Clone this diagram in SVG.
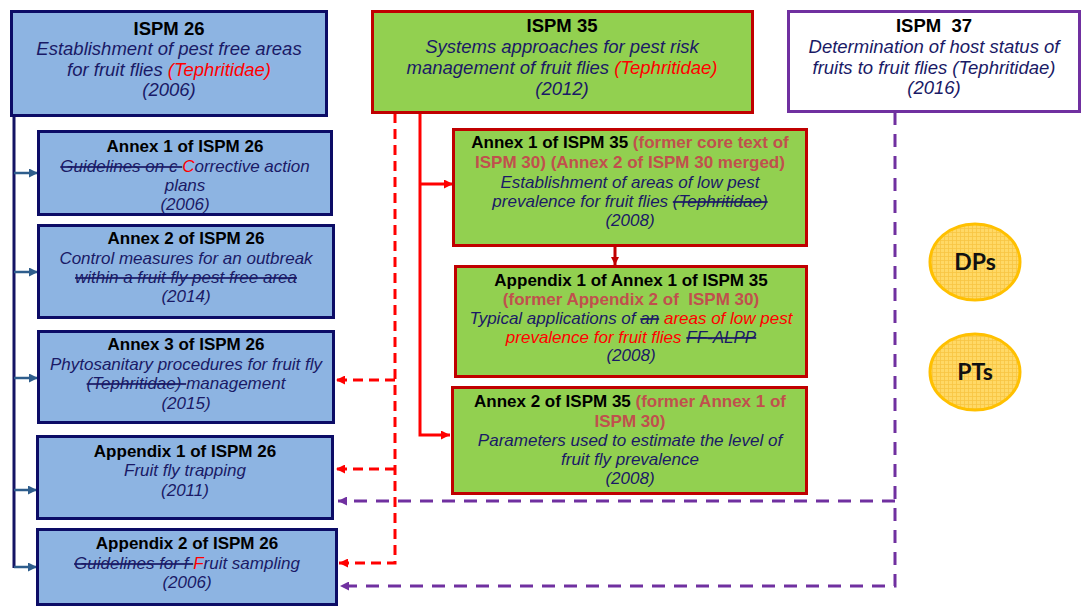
<svg xmlns="http://www.w3.org/2000/svg" width="1083" height="606" viewBox="0 0 1083 606">
<style>
text{font-family:"Liberation Sans",Arial,sans-serif;text-anchor:middle;}
.t{font-weight:bold;fill:#000;}
.i{font-style:italic;fill:#1a1a66;}
.top{font-size:18.5px;}
.sub{font-size:17px;}
.red{fill:#ff0000;}
.rose{fill:#c0504d;font-weight:bold;}
.st{text-decoration:line-through;}
.blue{fill:#8db4e2;stroke:#0c0c66;stroke-width:3;}
.green{fill:#92d050;stroke:#c00000;stroke-width:3;}
.blink{stroke:#2e5d8c;stroke-width:2.5;fill:none;}
.rdash{stroke:#ff0000;stroke-width:3;fill:none;stroke-dasharray:10,6;}
.pdash{stroke:#7030a0;stroke-width:3;fill:none;stroke-dasharray:13,9;}
.circ{font-family:Lato,"Noto Sans",sans-serif;font-weight:bold;font-size:23px;fill:#111;}
</style>
<defs>
<marker id="ab" viewBox="0 0 10 10" refX="10" refY="5" markerWidth="10" markerHeight="9" markerUnits="userSpaceOnUse" orient="auto"><path d="M0,0 L10,5 L0,10 z" fill="#2e5d8c"/></marker>
<marker id="ar" viewBox="0 0 10 10" refX="10" refY="5" markerWidth="10" markerHeight="9" markerUnits="userSpaceOnUse" orient="auto"><path d="M0,0 L10,5 L0,10 z" fill="#ff0000"/></marker>
<marker id="adr" viewBox="0 0 10 10" refX="10" refY="5" markerWidth="8" markerHeight="8" markerUnits="userSpaceOnUse" orient="auto"><path d="M0,0 L10,5 L0,10 z" fill="#c00000"/></marker>
<marker id="ap" viewBox="0 0 10 10" refX="10" refY="5" markerWidth="10" markerHeight="9" markerUnits="userSpaceOnUse" orient="auto"><path d="M0,0 L10,5 L0,10 z" fill="#7030a0"/></marker>
<pattern id="grid" width="4" height="4" patternUnits="userSpaceOnUse"><rect width="4" height="4" fill="#ffd966"/><path d="M0,0.5 H4 M0.5,0 V4" stroke="#f7c542" stroke-width="0.8"/></pattern>
</defs>

<g id="connectors">
<path d="M14,116 V568" stroke="#141464" stroke-width="3" fill="none"/>
<path class="blink" d="M14,173 H38" marker-end="url(#ab)"/>
<path class="blink" d="M14,272 H38" marker-end="url(#ab)"/>
<path class="blink" d="M14,378 H38" marker-end="url(#ab)"/>
<path class="blink" d="M14,490 H37" marker-end="url(#ab)"/>
<path class="blink" d="M14,567 H37" marker-end="url(#ab)"/>
<path d="M420,113 V435 H450" stroke="#ff0000" stroke-width="3" fill="none" marker-end="url(#ar)"/>
<path d="M420,184 H453" stroke="#ff0000" stroke-width="3" fill="none" marker-end="url(#ar)"/>
<path d="M615,246 V265" stroke="#c00000" stroke-width="3" fill="none" marker-end="url(#adr)"/>
<path class="rdash" d="M395,113 V563 H339" marker-end="url(#ar)"/>
<path class="rdash" d="M395,380 H336" marker-end="url(#ar)"/>
<path class="rdash" d="M395,469 H336" marker-end="url(#ar)"/>
<path class="pdash" d="M895,112 V586 H340" marker-end="url(#ap)"/>
<path class="pdash" d="M895,501 H338" marker-end="url(#ap)"/>
</g>

<g id="ispm26">
<rect class="blue" x="11.5" y="11.5" width="315" height="104"/>
<text class="top" x="169" y="34.5"><tspan class="t">ISPM 26</tspan></text>
<text class="top i" x="169" y="55">Establishment of pest free areas</text>
<text class="top i" x="169" y="75.5">for fruit flies <tspan class="red">(Tephritidae)</tspan></text>
<text class="top i" x="169" y="96">(2006)</text>
</g>

<g id="ispm35">
<rect class="green" x="372.5" y="11.5" width="380" height="101"/>
<text class="top t" x="562" y="32">ISPM 35</text>
<text class="top i" x="562" y="53">Systems approaches for pest risk</text>
<text class="top i" x="562" y="74">management of fruit flies <tspan class="red">(Tephritidae)</tspan></text>
<text class="top i" x="562" y="95">(2012)</text>
</g>

<g id="ispm37">
<rect x="788.5" y="11.5" width="291" height="100" fill="#fff" stroke="#7030a0" stroke-width="3"/>
<text class="top t" x="934" y="32" xml:space="preserve">ISPM  37</text>
<text class="top i" x="934" y="53">Determination of host status of</text>
<text class="top i" x="934" y="73.5">fruits to fruit flies (Tephritidae)</text>
<text class="top i" x="934" y="94">(2016)</text>
</g>

<g id="annex1-26">
<rect class="blue" x="38.5" y="131.5" width="293" height="83"/>
<text class="sub t" x="185" y="152">Annex 1 of ISPM 26</text>
<text class="sub i" x="185" y="172"><tspan class="st">Guidelines on c </tspan><tspan class="red">C</tspan>orrective action</text>
<text class="sub i" x="185" y="191">plans</text>
<text class="sub i" x="185" y="210">(2006)</text>
</g>

<g id="annex2-26">
<rect class="blue" x="38.5" y="225.5" width="295" height="92"/>
<text class="sub t" x="186" y="244">Annex 2 of ISPM 26</text>
<text class="sub i" x="186" y="264">Control measures for an outbreak</text>
<text class="sub i st" x="186" y="283">within a fruit fly pest free area</text>
<text class="sub i" x="186" y="302">(2014)</text>
</g>

<g id="annex3-26">
<rect class="blue" x="38.5" y="331.5" width="295" height="91"/>
<text class="sub t" x="186" y="350">Annex 3 of ISPM 26</text>
<text class="sub i" x="186" y="370">Phytosanitary procedures for fruit fly</text>
<text class="sub i" x="186" y="389"><tspan class="st">(Tephritidae) </tspan>management</text>
<text class="sub i" x="186" y="409">(2015)</text>
</g>

<g id="appendix1-26">
<rect class="blue" x="37.5" y="436.5" width="295" height="82"/>
<text class="sub t" x="185" y="457">Appendix 1 of ISPM 26</text>
<text class="sub i" x="185" y="476">Fruit fly trapping</text>
<text class="sub i" x="185" y="496">(2011)</text>
</g>

<g id="appendix2-26">
<rect class="blue" x="37.5" y="529.5" width="299" height="75"/>
<text class="sub t" x="187" y="549">Appendix 2 of ISPM 26</text>
<text class="sub i" x="187" y="569"><tspan class="st">Guidelines for f </tspan><tspan class="red">F</tspan>ruit sampling</text>
<text class="sub i" x="187" y="588">(2006)</text>
</g>

<g id="annex1-35">
<rect class="green" x="453.5" y="129.5" width="353" height="116"/>
<text class="sub" x="630" y="148"><tspan class="t">Annex 1 of ISPM 35 </tspan><tspan class="rose">(former core text of</tspan></text>
<text class="sub rose" x="630" y="168">ISPM 30) (Annex 2 of ISPM 30 merged)</text>
<text class="sub i" x="630" y="188">Establishment of areas of low pest</text>
<text class="sub i" x="630" y="207">prevalence for fruit flies <tspan class="st">(Tephritidae)</tspan></text>
<text class="sub i" x="630" y="226">(2008)</text>
</g>

<g id="appendix1-annex1-35">
<rect class="green" x="455.5" y="266.5" width="351" height="110"/>
<text class="sub t" x="631" y="286">Appendix 1 of Annex 1 of ISPM 35</text>
<text class="sub rose" x="631" y="305" xml:space="preserve">(former Appendix 2 of  ISPM 30)</text>
<text class="sub i" x="631" y="324">Typical applications of <tspan class="st">an</tspan> <tspan class="red">areas of low pest</tspan></text>
<text class="sub i" x="631" y="343"><tspan class="red">prevalence for fruit flies </tspan><tspan class="st">FF-ALPP</tspan></text>
<text class="sub i" x="631" y="361">(2008)</text>
</g>

<g id="annex2-35">
<rect class="green" x="452.5" y="387.5" width="354" height="106"/>
<text class="sub" x="630" y="407"><tspan class="t">Annex 2 of ISPM 35 </tspan><tspan class="rose">(former Annex 1 of</tspan></text>
<text class="sub rose" x="630" y="427">ISPM 30)</text>
<text class="sub i" x="630" y="446">Parameters used to estimate the level of</text>
<text class="sub i" x="630" y="465">fruit fly prevalence</text>
<text class="sub i" x="630" y="484">(2008)</text>
</g>

<g id="dps">
<ellipse cx="975" cy="262" rx="45" ry="38" fill="url(#grid)" stroke="#ffc000" stroke-width="3"/>
<text class="circ" x="975" y="270">DPs</text>
</g>

<g id="pts">
<ellipse cx="975" cy="372" rx="45" ry="38" fill="url(#grid)" stroke="#ffc000" stroke-width="3"/>
<text class="circ" x="975" y="380">PTs</text>
</g>
</svg>
